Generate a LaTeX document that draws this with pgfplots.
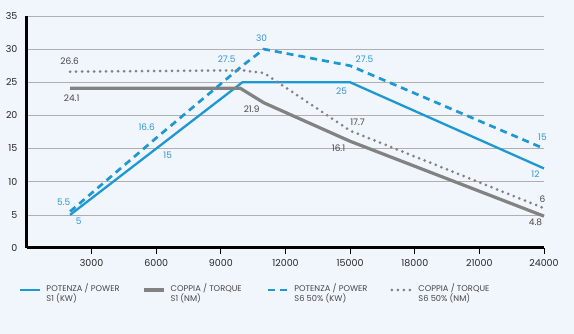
\documentclass[border=0pt]{standalone}
\usepackage{fontspec}
\setmainfont{Poppins}
\usepackage{pgfplots}
\pgfplotsset{compat=1.18}
\definecolor{bg}{RGB}{240,246,252}
\definecolor{pblue}{RGB}{30,152,210}
\definecolor{tgray}{RGB}{130,130,130}
\definecolor{lblue}{RGB}{50,150,210}
\definecolor{lgray}{RGB}{70,70,70}
\definecolor{gridc}{RGB}{175,175,175}
\begin{document}
\begin{tikzpicture}[x=1pt,y=1pt]
\fill[bg] (0,0) rectangle (574,334);
\begin{axis}[
  scale only axis, width=517pt, height=232pt,
  at={(27pt,86pt)}, anchor=south west,
  xmin=0, xmax=24000, ymin=0, ymax=35,
  axis lines*=left,
  axis line style={line width=3pt, black},
  xtick={3000,6000,...,24000},
  ytick={0,5,...,35},
  ymajorgrids, grid style={gridc, line width=0.6pt},
  tick align=outside, major tick length=6pt,
  xtick style={black, line width=1pt},
  ytick style={draw=none},
  tick label style={font=\fontsize{9.5}{10}\selectfont, text=black!85},
  xticklabel style={yshift=-2pt},
  /pgf/number format/assume math mode=true,
  /pgf/number format/set thousands separator={},
  scaled x ticks=false,
  clip=false,
  legend columns=4,
  legend style={at={(0,0)}, anchor=north west, xshift=-8pt, yshift=-33pt,
    draw=none, fill=none, inner sep=0pt,
    font=\fontsize{8.3}{10.5}\selectfont, text=lgray,
    /tikz/every odd column/.append style={column sep=3pt}},
  legend image code/.code={\draw[#1] (0pt,0pt) -- (20pt,0pt);},
]
\addplot[pblue, line width=2.3pt] coordinates {(2000,5) (6000,15) (10000,25) (15000,25) (24000,12)};
\addlegendentry{\parbox[c]{94pt}{POTENZA / POWER\\S1 (KW)}}
\addplot[tgray, line width=3.2pt] coordinates {(2000,24.1) (9900,24.1) (11000,21.9) (15000,16.1) (24000,4.8)};
\addlegendentry{\parbox[c]{94pt}{COPPIA / TORQUE\\S1 (NM)}}
\addplot[pblue, line width=2.7pt, dash pattern=on 7pt off 5pt] coordinates {(2000,5.5) (6000,16.6) (10000,27.5) (11000,30) (15000,27.5) (24000,15)};
\addlegendentry{\parbox[c]{94pt}{POTENZA / POWER\\S6 50\% (KW)}}
\addplot[tgray, line width=3pt, line cap=round, dash pattern=on 0pt off 6pt] coordinates {(2000,26.6) (10000,26.8) (11000,26.4) (15000,17.7) (24000,6)};
\addlegendentry{\parbox[c]{94pt}{COPPIA / TORQUE\\S6 50\% (NM)}}
\begin{scope}[every node/.style={font=\fontsize{9}{10}\selectfont}]
\node[lblue] at (axis cs:1703,6.94) {5.5};
\node[lblue] at (axis cs:2399,4.07) {5};
\node[lblue] at (axis cs:5555,18.25) {16.6};
\node[lblue] at (axis cs:6529,14.03) {15};
\node[lblue] at (axis cs:9267,28.5) {27.5};
\node[lblue] at (axis cs:10891,31.7) {30};
\node[lblue] at (axis cs:15670,28.5) {27.5};
\node[lblue] at (axis cs:14603,23.7) {25};
\node[lblue] at (axis cs:23930,16.7) {15};
\node[lblue] at (axis cs:23606,11.2) {12};
\node[lgray] at (axis cs:1981,28.2) {26.6};
\node[lgray] at (axis cs:2074,22.6) {24.1};
\node[lgray] at (axis cs:10427,21.0) {21.9};
\node[lgray] at (axis cs:15345,19.0) {17.7};
\node[lgray] at (axis cs:14464,15.1) {16.1};
\node[lgray] at (axis cs:23930,7.4) {6};
\node[lgray] at (axis cs:23606,3.9) {4.8};
\end{scope}
\end{axis}
\end{tikzpicture}
\end{document}
